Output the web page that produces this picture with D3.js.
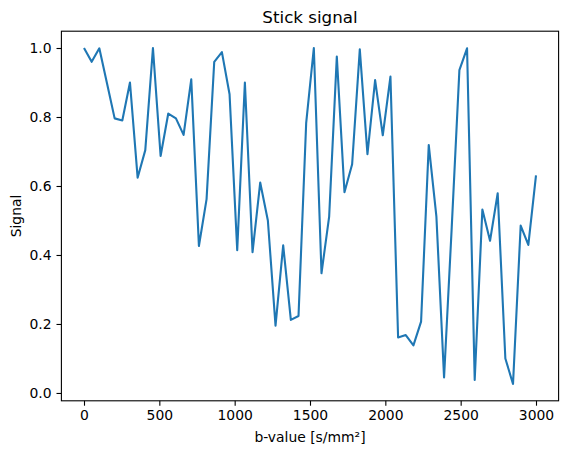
<!DOCTYPE html><html><head><meta charset="utf-8"><script src="https://cdn.jsdelivr.net/npm/d3@7"></script>
<style>body{margin:0;background:#fff}text{font-family:"DejaVu Sans",sans-serif}</style></head><body><svg id="c" width="567" height="454"></svg>
<script>
const signal=[1.00,0.960,0.999,0.898,0.796,0.790,0.900,0.624,0.704,1.00,0.687,0.810,0.796,0.748,0.909,0.426,0.562,0.960,0.988,0.866,0.414,0.900,0.408,0.610,0.500,0.195,0.428,0.212,0.223,0.782,1.00,0.347,0.511,0.975,0.582,0.663,0.996,0.692,0.907,0.747,0.917,0.161,0.168,0.138,0.207,0.719,0.511,0.045,0.48,0.936,0.999,0.038,0.532,0.441,0.579,0.100,0.026,0.485,0.429,0.631];
const bvals=signal.map((_,i)=>i*3000/59);
const xTicks=[0,500,1000,1500,2000,2500,3000];
const yTicks=[0,0.2,0.4,0.6,0.8,1.0];
const svg=d3.select("#c");
const L=61.4,R=558.6,T=31.2,B=400.8;
const x=d3.scaleLinear().domain([-150,3150]).range([L,R]);
const y=d3.scaleLinear().domain([-0.0227,1.0487]).range([B,T]);
const xa=svg.append("g").attr("transform",`translate(0,${B})`).call(d3.axisBottom(x).tickValues(xTicks).tickFormat(d3.format("d")).tickSize(4.9).tickPadding(4.9));
const ya=svg.append("g").attr("transform",`translate(${L},0)`).call(d3.axisLeft(y).tickValues(yTicks).tickFormat(d3.format(".1f")).tickSize(4.9).tickPadding(4.9));
[xa,ya].forEach(a=>{a.select(".domain").remove();a.selectAll("text").attr("font-size",13.9).attr("fill","#000").style("font-family","DejaVu Sans");a.selectAll("line").attr("stroke","#000").attr("stroke-width",1.1);});
svg.append("rect").attr("x",L).attr("y",T).attr("width",R-L).attr("height",B-T).attr("fill","none").attr("stroke","#000").attr("stroke-width",1.1);
svg.append("path").datum(signal).attr("fill","none").attr("stroke","#1f77b4").attr("stroke-width",2.1).attr("stroke-linejoin","round")
 .attr("d",d3.line().x((d,i)=>x(bvals[i])).y(d=>y(d)));
svg.append("text").attr("x",(L+R)/2).attr("y",T-8).attr("text-anchor","middle").attr("font-size",16.7).text("Stick signal");
svg.append("text").attr("x",(L+R)/2).attr("y",442).attr("text-anchor","middle").attr("font-size",13.9).text("b-value [s/mm²]");
svg.append("text").attr("transform",`translate(21,${(T+B)/2}) rotate(-90)`).attr("text-anchor","middle").attr("font-size",13.9).text("Signal");
</script></body></html>
